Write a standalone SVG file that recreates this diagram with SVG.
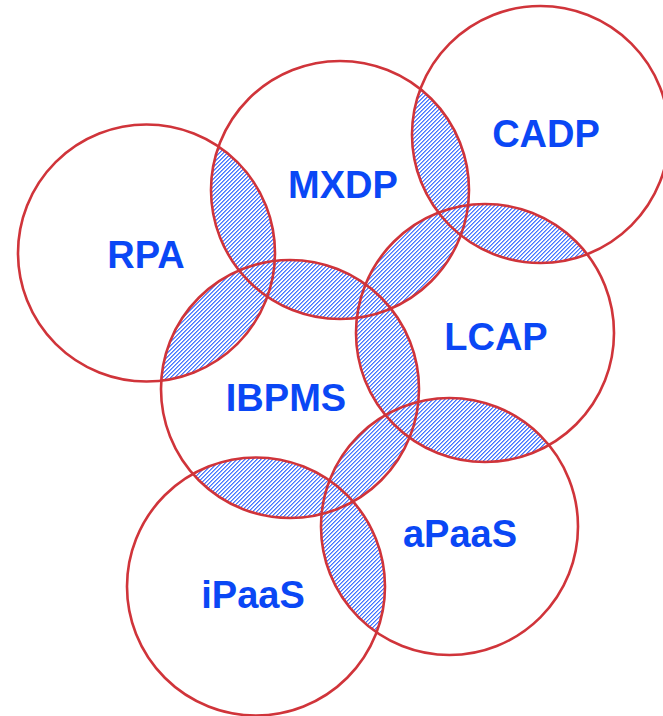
<svg xmlns="http://www.w3.org/2000/svg" xmlns:xlink="http://www.w3.org/1999/xlink" width="663" height="716" viewBox="0 0 663 716">
<style>
.ring{fill:none;stroke:#d0343a;stroke-width:2.6}
.lbl{font-family:"Liberation Sans",Arial,sans-serif;font-weight:bold;font-size:38px;fill:#0a47f5;text-anchor:middle}
.stripe{fill:none;stroke:#0044ff;stroke-width:1400;stroke-dasharray:0.85 1.978}
.m{fill:#ffffff}
</style>
<defs>
<clipPath id="cRPA"><circle cx="146.5" cy="253" r="128.5"/></clipPath>
<clipPath id="cMXDP"><circle cx="340" cy="190" r="129"/></clipPath>
<clipPath id="cCADP"><circle cx="540.5" cy="134.5" r="128.5"/></clipPath>
<clipPath id="cLCAP"><circle cx="485" cy="333" r="129"/></clipPath>
<clipPath id="cIBPMS"><circle cx="290" cy="389" r="129"/></clipPath>
<clipPath id="cAPAAS"><circle cx="449.5" cy="526.5" r="128.5"/></clipPath>
<mask id="overlapMask" maskUnits="userSpaceOnUse" x="0" y="0" width="663" height="716">
<rect width="663" height="716" fill="#000000"/>
<circle class="m" cx="340" cy="190" r="129" clip-path="url(#cRPA)"/>
<circle class="m" cx="290" cy="389" r="129" clip-path="url(#cRPA)"/>
<circle class="m" cx="540.5" cy="134.5" r="128.5" clip-path="url(#cMXDP)"/>
<circle class="m" cx="485" cy="333" r="129" clip-path="url(#cMXDP)"/>
<circle class="m" cx="290" cy="389" r="129" clip-path="url(#cMXDP)"/>
<circle class="m" cx="485" cy="333" r="129" clip-path="url(#cCADP)"/>
<circle class="m" cx="290" cy="389" r="129" clip-path="url(#cLCAP)"/>
<circle class="m" cx="449.5" cy="526.5" r="128.5" clip-path="url(#cLCAP)"/>
<circle class="m" cx="449.5" cy="526.5" r="128.5" clip-path="url(#cIBPMS)"/>
<circle class="m" cx="256" cy="586.5" r="129" clip-path="url(#cIBPMS)"/>
<circle class="m" cx="256" cy="586.5" r="129" clip-path="url(#cAPAAS)"/>
</mask>
</defs>
<rect width="663" height="716" fill="#ffffff"/>
<g id="overlaps" mask="url(#overlapMask)">
<line class="stripe" x1="-400" y1="-400" x2="1100" y2="1100"/>
</g>
<g id="RPA"><circle class="ring" cx="146.5" cy="253" r="128.5"/><text class="lbl" x="146" y="268">RPA</text></g>
<g id="MXDP"><circle class="ring" cx="340" cy="190" r="129"/><text class="lbl" x="343" y="198">MXDP</text></g>
<g id="CADP"><circle class="ring" cx="540.5" cy="134.5" r="128.5"/><text class="lbl" x="546" y="147">CADP</text></g>
<g id="LCAP"><circle class="ring" cx="485" cy="333" r="129"/><text class="lbl" x="496" y="350">LCAP</text></g>
<g id="IBPMS"><circle class="ring" cx="290" cy="389" r="129"/><text class="lbl" x="286" y="411">IBPMS</text></g>
<g id="aPaaS"><circle class="ring" cx="449.5" cy="526.5" r="128.5"/><text class="lbl" x="460" y="547">aPaaS</text></g>
<g id="iPaaS"><circle class="ring" cx="256" cy="586.5" r="129"/><text class="lbl" x="253" y="608">iPaaS</text></g>
</svg>
